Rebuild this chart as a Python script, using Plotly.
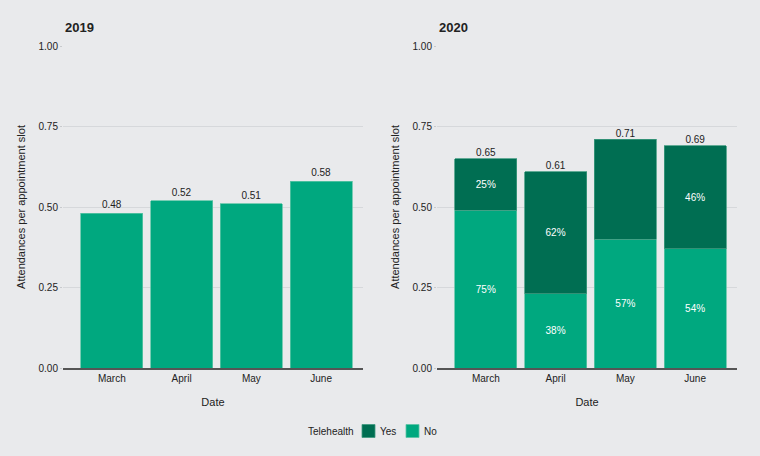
import plotly.graph_objects as go

months = ["March", "April", "May", "June"]
vals_2019 = [0.48, 0.52, 0.51, 0.58]
totals_2020 = [0.65, 0.61, 0.71, 0.69]
no_2020 = [0.49, 0.23, 0.40, 0.37]
yes_2020 = [0.16, 0.38, 0.31, 0.32]
no_pct_labels = ["75%", "38%", "57%", "54%"]
yes_pct_labels = ["25%", "62%", "", "46%"]
y_ticks = [0, 0.25, 0.5, 0.75, 1.0]
y_tick_labels = ["0.00", "0.25", "0.50", "0.75", "1.00"]
legend_title = "Telehealth"
legend_items = [("Yes", "#006e52", "#3f9a80"), ("No", "#00a87f", "#5cc4a6")]

LIGHT = "#00a87f"
DARK = "#006e52"
BG = "#e9eaec"
FONT = "Liberation Sans, Arial, sans-serif"
TXT = "#222222"

W, H = 760, 456
ML, MR, MT, MB = 63, 23, 46, 88
PW, PH = W - ML - MR, H - MT - MB


def px_x(px):
    return (px - ML) / PW


def px_y(py):
    return (H - MB - py) / PH


fig = go.Figure()

fig.add_trace(go.Bar(
    x=months, y=vals_2019, xaxis="x", yaxis="y",
    marker=dict(color=LIGHT, line=dict(color="#5cc4a6", width=0.8)),
    text=[f"{v:.2f}" for v in vals_2019], textposition="outside",
    textfont=dict(size=10, color=TXT), cliponaxis=False,
    showlegend=False, hoverinfo="skip",
))

fig.add_trace(go.Bar(
    x=months, y=no_2020, xaxis="x2", yaxis="y2", name="No",
    marker=dict(color=LIGHT, line=dict(color="#5cc4a6", width=0.8)),
    text=no_pct_labels, textposition="inside", insidetextanchor="middle",
    textfont=dict(size=10, color="white"), showlegend=False,
))
fig.add_trace(go.Bar(
    x=months, y=yes_2020, xaxis="x2", yaxis="y2", name="Yes",
    marker=dict(color=DARK, line=dict(color="#3f9a80", width=0.8)),
    text=yes_pct_labels, textposition="inside", insidetextanchor="middle",
    textfont=dict(size=10, color="white"), showlegend=False,
))
fig.add_trace(go.Scatter(
    x=months, y=totals_2020, xaxis="x2", yaxis="y2", mode="text",
    text=[f"{v:.2f}" for v in totals_2020], textposition="top center",
    textfont=dict(size=10, color=TXT), showlegend=False, hoverinfo="skip",
    cliponaxis=False,
))

xcommon = dict(
    type="category", range=[-0.7, 3.6], showgrid=False, showline=True,
    linecolor="#555555", linewidth=1.5, ticks="", zeroline=False,
    tickfont=dict(size=10, color=TXT),
    title=dict(text="Date", font=dict(size=11, color=TXT), standoff=16),
)
ycommon = dict(
    range=[0, 1.0], tickvals=y_ticks, ticktext=y_tick_labels,
    showgrid=True, gridcolor="#d6d8db", gridwidth=1, zeroline=False,
    ticks="outside", ticklen=2, tickcolor="#c8cacd",
    tickfont=dict(size=10, color=TXT),
    title=dict(text="Attendances per appointment slot", font=dict(size=11, color=TXT), standoff=10),
)

annotations = [
    dict(text="<b>2019</b>", x=0.0, y=1.059, xref="paper", yref="paper",
         xanchor="left", yanchor="middle", showarrow=False,
         font=dict(size=13, color=TXT)),
    dict(text="<b>2020</b>", x=0.5549, y=1.059, xref="paper", yref="paper",
         xanchor="left", yanchor="middle", showarrow=False,
         font=dict(size=13, color=TXT)),
    dict(text=legend_title, x=px_x(306), y=px_y(431), xref="paper", yref="paper",
         xanchor="left", yanchor="middle", showarrow=False,
         font=dict(size=10, color=TXT)),
]
shapes = []
swatch_left = [362, 406]
for (label, col, edge), sx in zip(legend_items, swatch_left):
    shapes.append(dict(type="rect", xref="paper", yref="paper",
                       x0=px_x(sx), x1=px_x(sx + 13), y0=px_y(437.5), y1=px_y(424.5),
                       fillcolor=col, line=dict(color=edge, width=0.8)))
    annotations.append(dict(text=label, x=px_x(sx + 16), y=px_y(431), xref="paper",
                            yref="paper", xanchor="left", yanchor="middle",
                            showarrow=False, font=dict(size=10, color=TXT)))

fig.update_layout(
    width=W, height=H,
    margin=dict(l=ML, r=MR, t=MT, b=MB, autoexpand=False),
    paper_bgcolor=BG, plot_bgcolor=BG,
    font=dict(family=FONT, size=10, color=TXT),
    barmode="stack", bargap=0.11, showlegend=False,
    xaxis=dict(domain=[0, 0.4451], anchor="y", **xcommon),
    yaxis=dict(domain=[0, 1], anchor="x", **ycommon),
    xaxis2=dict(domain=[0.5549, 1], anchor="y2", **xcommon),
    yaxis2=dict(domain=[0, 1], anchor="x2", **ycommon),
    annotations=annotations,
    shapes=shapes,
)

fig.write_html("out.html", config={"displayModeBar": False},
               post_script="document.body.style.margin='0';document.body.style.padding='0';")
